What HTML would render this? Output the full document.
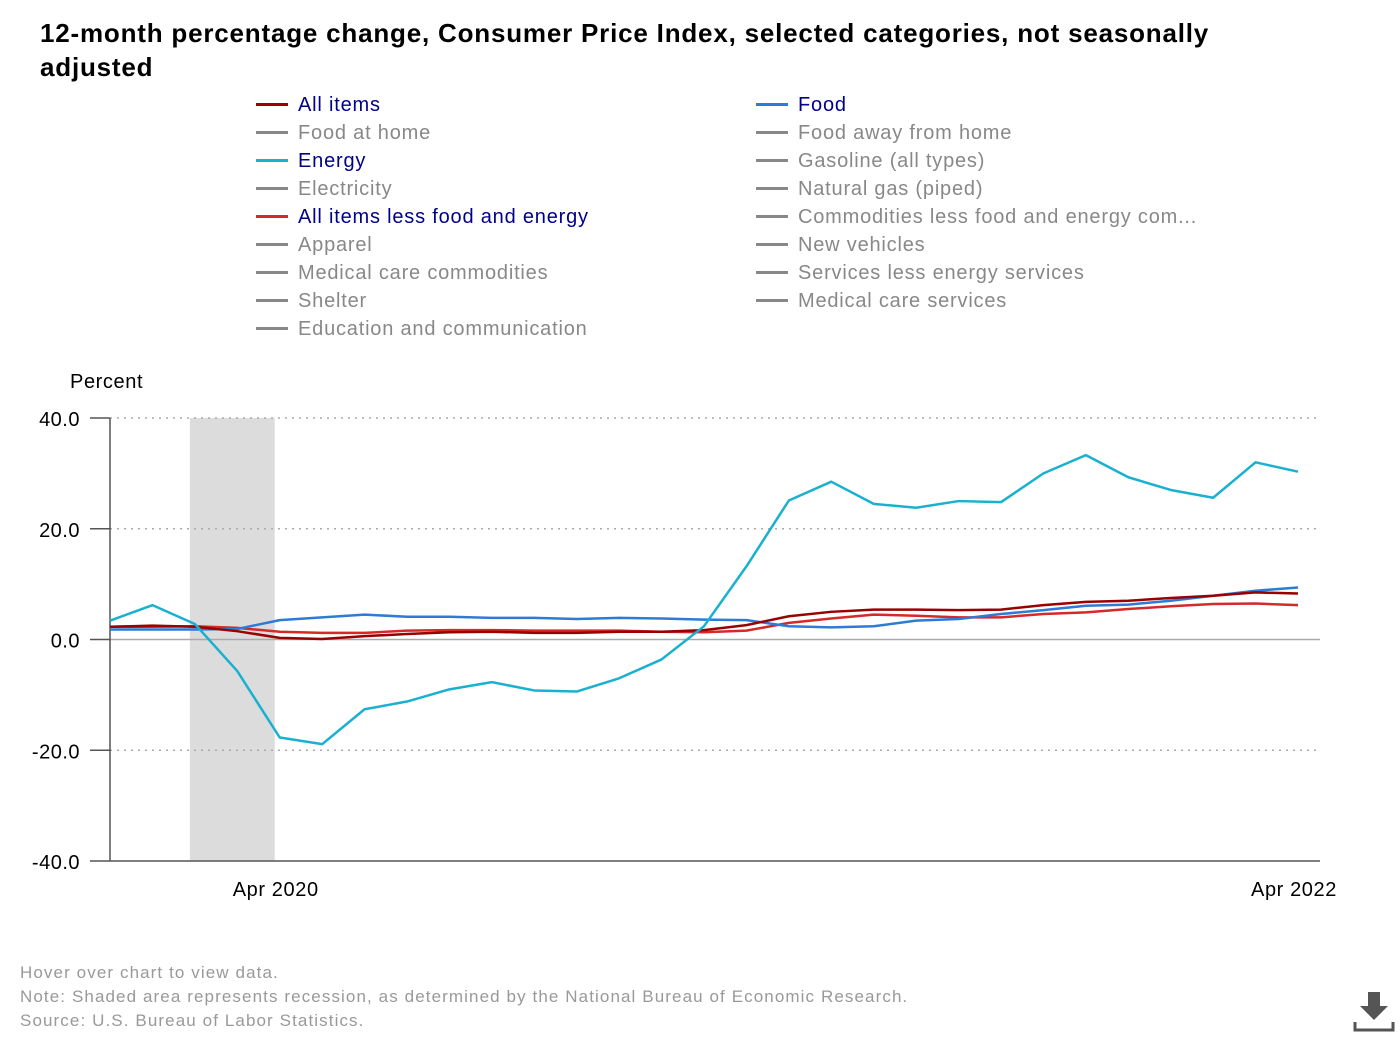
<!DOCTYPE html>
<html><head><meta charset="utf-8">
<style>
body{margin:0;background:#fff;font-family:"Liberation Sans",sans-serif;}
#wrap{position:relative;width:1400px;height:1040px;overflow:hidden;}
h1{position:absolute;left:40px;top:16px;margin:0;font-size:26px;line-height:34px;font-weight:bold;color:#000;width:1230px;letter-spacing:0.8px;}
.leg{position:absolute;font-size:20px;height:28px;line-height:28px;white-space:nowrap;letter-spacing:0.8px;}
.leg .sw{position:absolute;left:0;top:13px;width:32px;height:3px;}
.leg span.t{position:absolute;left:42px;top:1px;}
.note{position:absolute;left:20px;font-size:17px;color:#999;letter-spacing:1.1px;}
</style></head><body>
<div id="wrap">
<h1>12-month percentage change, Consumer Price Index, selected categories, not seasonally adjusted</h1>
<div id="legend"></div>
<svg id="chart" width="1400" height="1040" style="position:absolute;left:0;top:0"></svg>
<div class="note" style="top:963px">Hover over chart to view data.</div>
<div class="note" style="top:987px">Note: Shaded area represents recession, as determined by the National Bureau of Economic Research.</div>
<div class="note" style="top:1011px">Source: U.S. Bureau of Labor Statistics.</div>
<svg style="position:absolute;left:1352px;top:990px" width="44" height="44">
<polygon points="16,2 28,2 28,16 36,16 22,30 8,16 16,16" fill="#555"/>
<polyline points="3,32 3,40 41,40 41,32" fill="none" stroke="#555" stroke-width="3"/>
</svg>
</div>
<script>
const months=["Dec 2019","Jan 2020","Feb 2020","Mar 2020","Apr 2020","May 2020","Jun 2020","Jul 2020","Aug 2020","Sep 2020","Oct 2020","Nov 2020","Dec 2020","Jan 2021","Feb 2021","Mar 2021","Apr 2021","May 2021","Jun 2021","Jul 2021","Aug 2021","Sep 2021","Oct 2021","Nov 2021","Dec 2021","Jan 2022","Feb 2022","Mar 2022","Apr 2022"];
const energy=[3.4,6.2,2.8,-5.7,-17.7,-18.9,-12.6,-11.2,-9.0,-7.7,-9.2,-9.4,-7.0,-3.6,2.4,13.2,25.1,28.5,24.5,23.8,25.0,24.8,30.0,33.3,29.3,27.0,25.6,32.0,30.3];
const allItems=[2.3,2.5,2.3,1.5,0.3,0.1,0.6,1.0,1.3,1.4,1.2,1.2,1.4,1.4,1.7,2.6,4.2,5.0,5.4,5.4,5.3,5.4,6.2,6.8,7.0,7.5,7.9,8.5,8.3];
const food=[1.8,1.8,1.8,1.9,3.5,4.0,4.5,4.1,4.1,3.9,3.9,3.7,3.9,3.8,3.6,3.5,2.4,2.2,2.4,3.4,3.7,4.6,5.3,6.1,6.3,7.0,7.9,8.8,9.4];
const core=[2.3,2.3,2.4,2.1,1.4,1.2,1.2,1.6,1.7,1.7,1.6,1.6,1.6,1.4,1.3,1.6,3.0,3.8,4.5,4.3,4.0,4.0,4.6,4.9,5.5,6.0,6.4,6.5,6.2];
const yTicks=[40,20,0,-20,-40];
const xTickLabels=["Apr 2020","Apr 2022"];
const recession=["Feb 2020","Apr 2020"];

const legendLeft=[["All items","#990000",1],["Food at home","#888",0],["Energy","#1ab0d0",1],["Electricity","#888",0],["All items less food and energy","#d42a2a",1],["Apparel","#888",0],["Medical care commodities","#888",0],["Shelter","#888",0],["Education and communication","#888",0]];
const legendRight=[["Food","#2e7bd6",1],["Food away from home","#888",0],["Gasoline (all types)","#888",0],["Natural gas (piped)","#888",0],["Commodities less food and energy com...","#888",0],["New vehicles","#888",0],["Services less energy services","#888",0],["Medical care services","#888",0]];
const lg=document.getElementById('legend');
function addLeg(arr,x){arr.forEach((e,i)=>{const d=document.createElement('div');d.className='leg';d.style.left=x+'px';d.style.top=(90+i*28)+'px';


d.innerHTML='<div class="sw" style="background:'+(e[2]?e[1]:'#888')+'"></div><span class="t" style="color:'+(e[2]?'#00008b':'#888')+'">'+e[0]+'</span>';lg.appendChild(d);});}
addLeg(legendLeft,256);addLeg(legendRight,756);

const svg=document.getElementById('chart');const NS='http://www.w3.org/2000/svg';
const x0=110,x1=1298,yTop=418,yBot=861;
const xs=i=>x0+i*(x1-x0)/(months.length-1);
const ys=v=>yTop+(40-v)*(yBot-yTop)/80;
function el(t,a,name){const e=document.createElementNS(NS,t);for(const k in a)e.setAttribute(k,a[k]);


svg.appendChild(e);return e;}
const r0=xs(months.indexOf(recession[0]))-5,r1=xs(months.indexOf(recession[1]))-5;
el('rect',{x:r0,y:ys(40),width:r1-r0,height:ys(-40)-ys(40),fill:'#dcdcdc'},'recession-shade');
yTicks.forEach(v=>{
 if(v!==-40&&v!==0)el('line',{x1:x0,x2:1320,y1:ys(v),y2:ys(v),stroke:'#aaa','stroke-dasharray':'2,5','stroke-width':1.5},'gridline');
 el('line',{x1:90,x2:x0,y1:ys(v),y2:ys(v),stroke:'#555','stroke-width':1.5},'y-tick');
 const t=el('text',{x:80,y:ys(v)+8,'text-anchor':'end','font-size':20,fill:'#000','font-family':'Liberation Sans, sans-serif','letter-spacing':0.5},'y-tick-label');t.textContent=v.toFixed(1);
});
el('line',{x1:x0,x2:1320,y1:ys(0),y2:ys(0),stroke:'#aaa','stroke-width':1.5},'zero-line');
el('line',{x1:x0,x2:x0,y1:ys(40),y2:ys(-40),stroke:'#555','stroke-width':1.5},'y-axis');
el('line',{x1:x0,x2:1320,y1:ys(-40),y2:ys(-40),stroke:'#555','stroke-width':1.5},'x-axis');
const yt=el('text',{x:70,y:388,'font-size':20,fill:'#000','font-family':'Liberation Sans, sans-serif','letter-spacing':0.6},'y-axis-title');yt.textContent='Percent';
xTickLabels.forEach(l=>{const t=el('text',{x:xs(months.indexOf(l))-4,y:896,'text-anchor':'middle','font-size':20,fill:'#000','font-family':'Liberation Sans, sans-serif','letter-spacing':0.6},'x-tick-label');t.textContent=l;});
function line(data,color,name){el('polyline',{points:data.map((v,i)=>xs(i)+','+ys(v)).join(' '),fill:'none',stroke:color,'stroke-width':2.5,'stroke-linejoin':'round'},name);}
line(core,'#d42a2a','line-core');
line(food,'#2e7bd6','line-food');
line(allItems,'#990000','line-all-items');
line(energy,'#1ab0d0','line-energy');
</script>
</body></html>
